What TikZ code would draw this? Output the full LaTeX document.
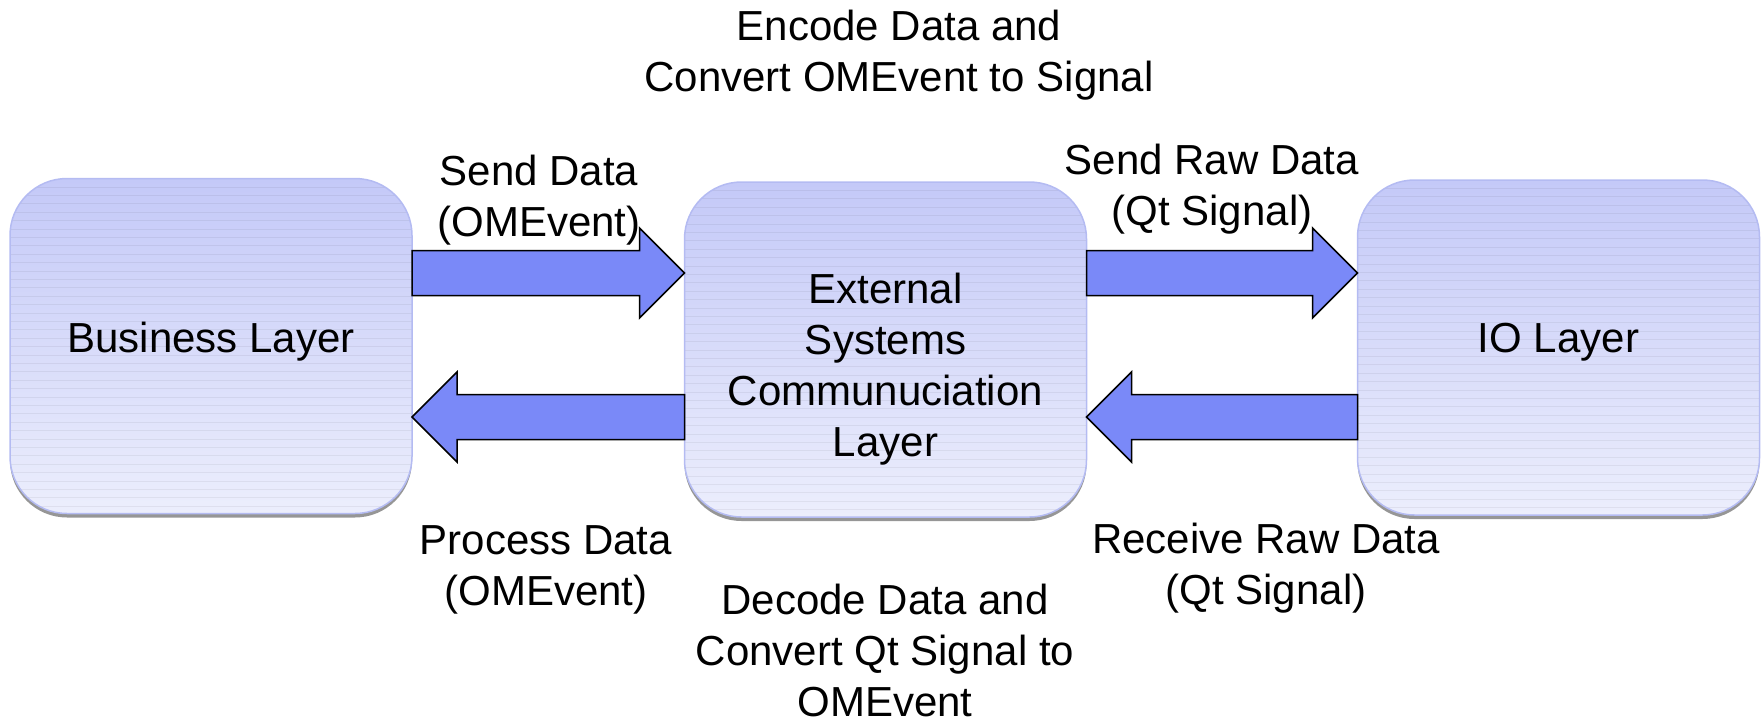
\documentclass[tikz,border=0pt]{standalone}
\usepackage{fontspec}
\setmainfont{Liberation Sans}
\usetikzlibrary{calc,shadows}

\definecolor{boxtop}{RGB}{196,201,248}
\definecolor{boxbottom}{RGB}{236,238,252}
\definecolor{boxline}{RGB}{180,187,242}
\definecolor{shadowgray}{RGB}{150,150,150}
\definecolor{arrowblue}{RGB}{122,137,248}

\tikzset{
  layer/.style={rectangle, rounded corners=57pt, minimum width=402pt, minimum height=335pt,
    inner sep=0pt, outer sep=0pt, top color=boxtop, bottom color=boxbottom,
    draw=boxline, line width=1.5pt,
    general shadow={fill=shadowgray, shadow yshift=-4pt},
    path picture={
      \foreach \k in {1,...,40}{
        \draw[black, opacity=0.055, line width=0.8pt]
          ([yshift=-\k*8.4pt]path picture bounding box.north west) --
          ([yshift=-\k*8.4pt]path picture bounding box.north east);
      }
    }},
  % multi-line captions: the base anchor sits on the last line's baseline
  caption/.style={font=\fontsize{42pt}{51pt}\selectfont, align=center, anchor=base, inner sep=0pt},
  % block arrow from the start point to the target's x position, at the start's height
  fatarrow/.style={draw=black, line width=1.5pt, fill=arrowblue, line join=miter,
    to path={let \p1=(\tikztostart), \p2=(\tikztotarget), \n1={sign(\x2-\x1)} in
      ({\x1},{\y1+22.5pt}) -- ({\x2-45pt*(\n1)},{\y1+22.5pt}) -- ({\x2-45pt*(\n1)},{\y1+45pt})
      -- ({\x2},{\y1}) -- ({\x2-45pt*(\n1)},{\y1-45pt}) -- ({\x2-45pt*(\n1)},{\y1-22.5pt})
      -- ({\x1},{\y1-22.5pt}) -- cycle}}
}

\begin{document}
\begin{tikzpicture}[x=1pt, y=-1pt]
  \useasboundingbox (0,0) rectangle (1761,723);

  % the three layers
  \node[layer] (biz) at (211,346) {};
  \node[layer] (ext) at (885.5,349.5) {};
  \node[layer] (io)  at (1558.5,347.5) {};

  \node[caption] (bizname) at (211,352) {Business Layer};
  \node[caption] (extname) at (885.5,456) {External\\Systems\\Communuciation\\Layer};
  \node[caption] (ioname)  at (1558.5,352) {IO Layer};

  % rows of the arrows
  \coordinate (uprow) at (0,273);
  \coordinate (downrow) at (0,417);

  % data flow between the layers
  \draw[fatarrow] (biz.east |- uprow) to (ext.west);
  \draw[fatarrow] (ext.west |- downrow) to (biz.east);
  \draw[fatarrow] (ext.east |- uprow) to (io.west);
  \draw[fatarrow] (io.west |- downrow) to (ext.east);

  % annotations
  \node[caption] (encode)  at (899,91)   {Encode Data and\\Convert OMEvent to Signal};
  \node[caption] (senddata) at (539,236) {Send Data\\(OMEvent)};
  \node[caption] (sendraw) at (1212,225) {Send Raw Data\\(Qt Signal)};
  \node[caption] (procdata) at (546,605) {Process Data\\(OMEvent)};
  \node[caption] (decode)  at (885,716)  {Decode Data and\\Convert Qt Signal to\\OMEvent};
  \node[caption] (recvraw) at (1266,604) {Receive Raw Data\\(Qt Signal)};
\end{tikzpicture}
\end{document}
